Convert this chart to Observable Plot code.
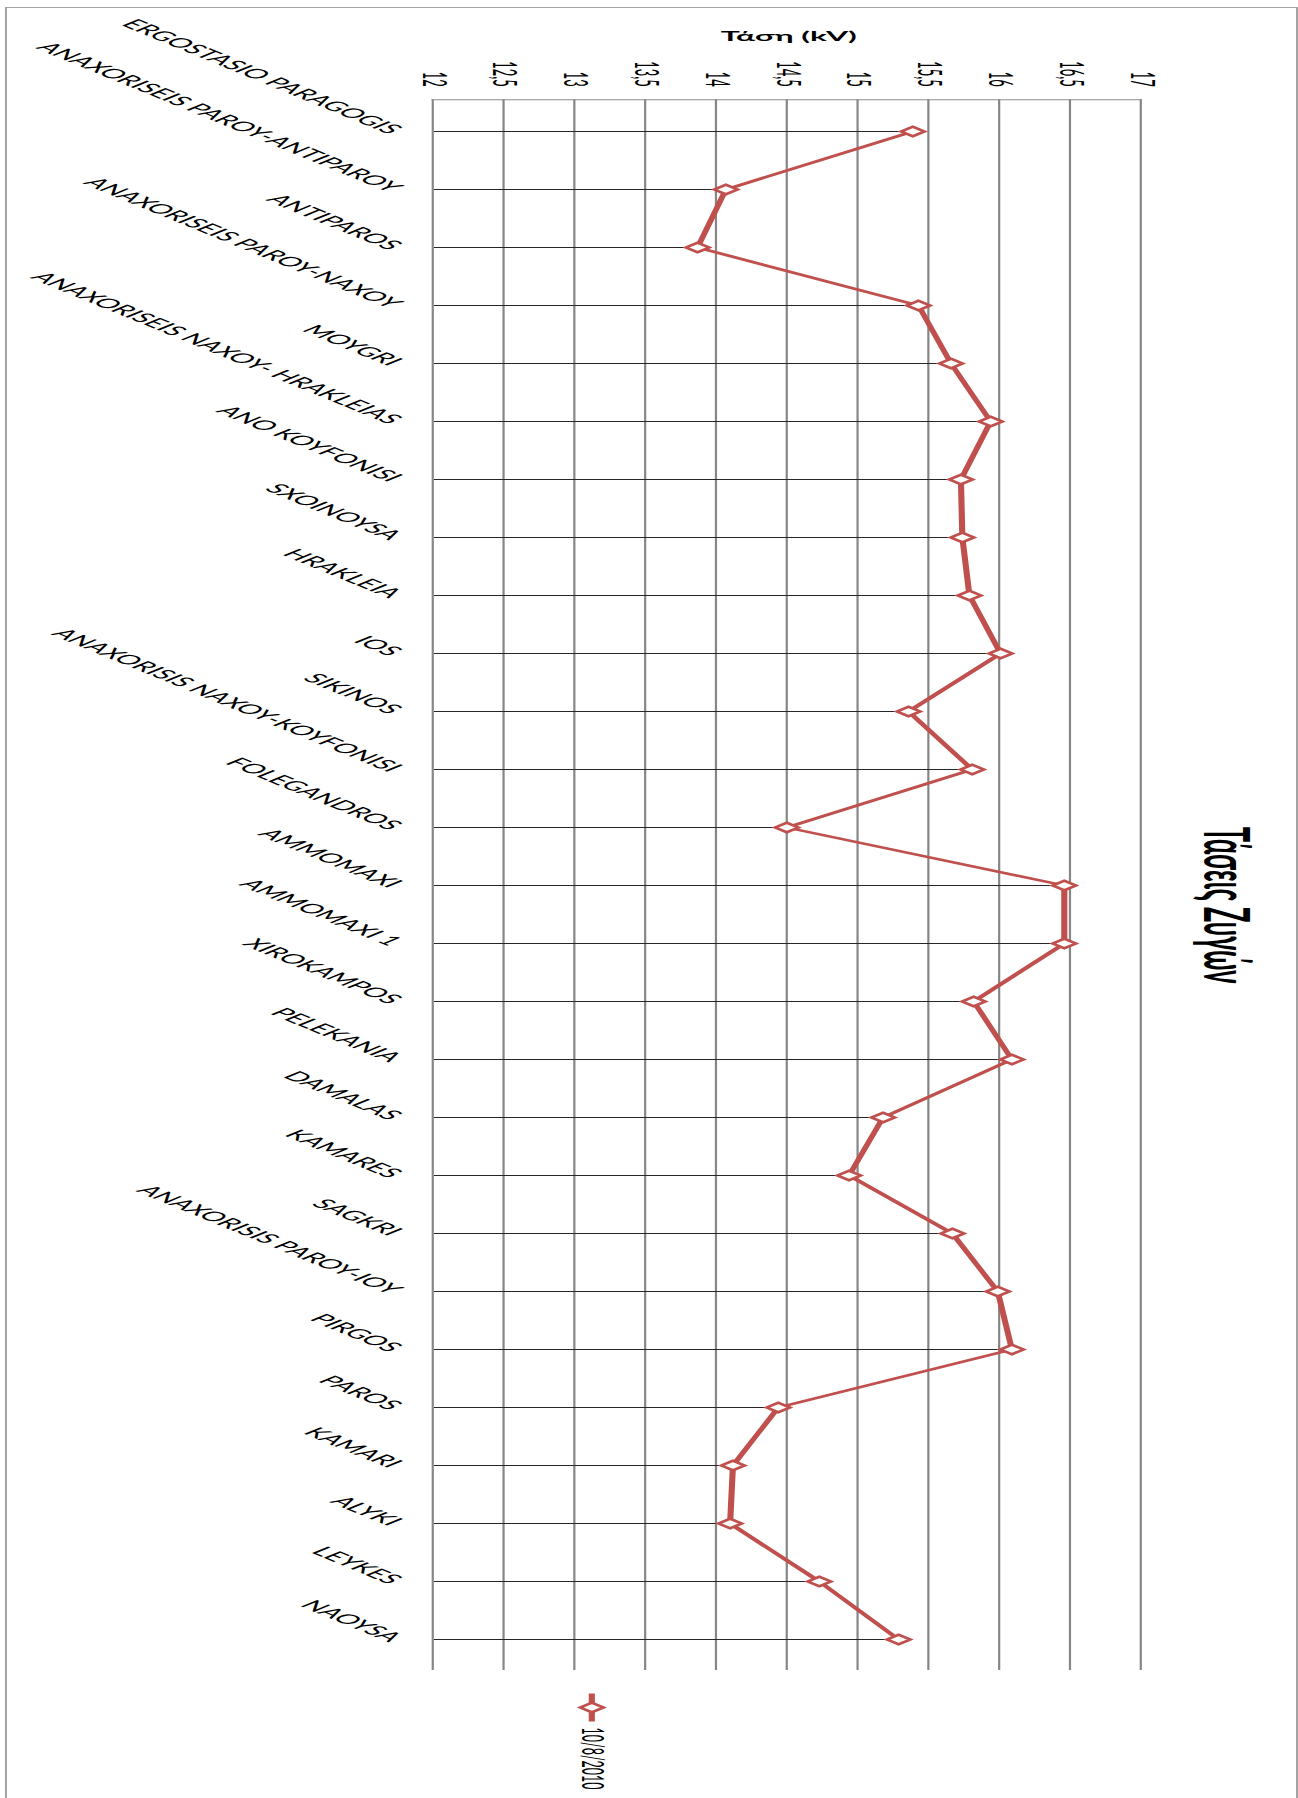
<!DOCTYPE html>
<html>
<head>
<meta charset="utf-8">
<script src="https://cdn.jsdelivr.net/npm/d3@7"></script>
<script src="https://cdn.jsdelivr.net/npm/@observablehq/plot@0.6"></script>
<style>
  html, body { margin: 0; padding: 0; background: #fff; }
  #stage { position: relative; width: 1298px; height: 1798px; overflow: hidden; background: #fff; }
  #border { position: absolute; left: 4.5px; top: 7px; width: 1293px; height: 1820px; box-sizing: border-box;
            border-style: solid; border-color: #a3a3a3; border-width: 1px 2.5px 0 2.5px; }
  #chart { position: absolute; left: 0; top: 0; width: 1798px; height: 530px; transform-origin: 0 0; }
  #chart svg { max-width: none !important; display: block; }
</style>
</head>
<body>
<div id="stage"><div id="border"></div><div id="chart"></div></div>
<script>
// ---- data ----
const stations = [
  "ERGOSTASIO PARAGOGIS",
  "ANAXORISEIS PAROY-ANTIPAROY",
  "ANTIPAROS",
  "ANAXORISEIS PAROY-NAXOY",
  "MOYGRI",
  "ANAXORISEIS NAXOY- HRAKLEIAS",
  "ANO KOYFONISI",
  "SXOINOYSA",
  "HRAKLEIA",
  "IOS",
  "SIKINOS",
  "ANAXORISIS NAXOY-KOYFONISI",
  "FOLEGANDROS",
  "AMMOMAXI",
  "AMMOMAXI 1",
  "XIROKAMPOS",
  "PELEKANIA",
  "DAMALAS",
  "KAMARES",
  "SAGKRI",
  "ANAXORISIS PAROY-IOY",
  "PIRGOS",
  "PAROS",
  "KAMARI",
  "ALYKI",
  "LEYKES",
  "NAOYSA"
];
const voltages = [
  15.39, 14.07, 13.87, 15.43, 15.66, 15.94, 15.73, 15.74, 15.79, 16.01,
  15.36, 15.81, 14.50, 16.46, 16.46, 15.82, 16.09, 15.18, 14.94, 15.67,
  15.99, 16.09, 14.44, 14.12, 14.10, 14.73, 15.29
];
const seriesName = "10/8/2010";
const yTicks = [12, 12.5, 13, 13.5, 14, 14.5, 15, 15.5, 16, 16.5, 17];
const yTickLabels = ["12", "12,5", "13", "13,5", "14", "14,5", "15", "15,5", "16", "16,5", "17"];
const chartTitle = "Τάσεις Ζυγών";
const axisTitle = "Τάση (kV)";

// ---- chart (drawn landscape, then turned to portrait like the reference) ----
const rows = stations.map((s, i) => ({station: s, voltage: voltages[i]}));
const RED = "#c0504d";
const W = 1798, H = 530;
const SX = 1298 / H;
const legendLine = { draw(ctx) { ctx.moveTo(-14, 0); ctx.lineTo(14, 0); } };

const svg = Plot.plot({
  width: W,
  height: H,
  marginTop: 63.7,
  marginBottom: 177.2,
  marginLeft: 99.3,
  marginRight: W - 1670,
  style: { fontFamily: "Lato, 'Open Sans', sans-serif", fontSize: "13px", color: "#000", background: "transparent", maxWidth: "none" },
  x: { type: "point", domain: stations, padding: 0.5, tickRotate: -45, tickSize: 0, tickPadding: 15, label: null },
  y: { domain: [12, 17], ticks: yTicks, tickFormat: d => yTickLabels[yTicks.indexOf(d)], tickSize: 0, tickPadding: 13, label: null },
  marks: [
    Plot.ruleY(yTicks, { stroke: "#868686", strokeWidth: 0.9 }),
    Plot.frame({ anchor: "left", stroke: "#8c8c8c", strokeWidth: 1 }),
    Plot.ruleX(rows, { x: "station", y1: 12, y2: "voltage", stroke: "#262626", strokeWidth: 0.9 }),
    Plot.line(rows, { x: "station", y: "voltage", stroke: RED, strokeWidth: 2.5 }),
    Plot.dot(rows, { x: "station", y: "voltage", symbol: "diamond2", r: 4.3, fill: "#fff", stroke: RED, strokeWidth: 2 }),
    Plot.text([chartTitle], { text: d => d, frameAnchor: "top", textAnchor: "middle", lineAnchor: "middle", dx: 20, dy: -34, fontSize: 25.5, fontWeight: "bold" }),
    Plot.text([axisTitle], { text: d => d, frameAnchor: "left", textAnchor: "middle", lineAnchor: "middle", dx: -63.3, dy: -0.8, rotate: -90, fontSize: 13, fontWeight: "bold" }),
    Plot.dot([seriesName], { frameAnchor: "right", dx: 37, dy: 79.6, symbol: legendLine, fill: "none", stroke: RED, strokeWidth: 2.5 }),
    Plot.dot([seriesName], { frameAnchor: "right", dx: 37, dy: 79.6, symbol: "diamond2", r: 4.3, fill: "#fff", stroke: RED, strokeWidth: 2 }),
    Plot.text([seriesName], { text: d => d, frameAnchor: "right", textAnchor: "start", lineAnchor: "middle", dx: 57, dy: 79.6, fontSize: 12.5 })
  ]
});

const holder = document.getElementById("chart");
holder.appendChild(svg);
holder.style.transform = `matrix(0, 1, ${-SX}, 0, 1298, 0)`;
</script>
</body>
</html>
